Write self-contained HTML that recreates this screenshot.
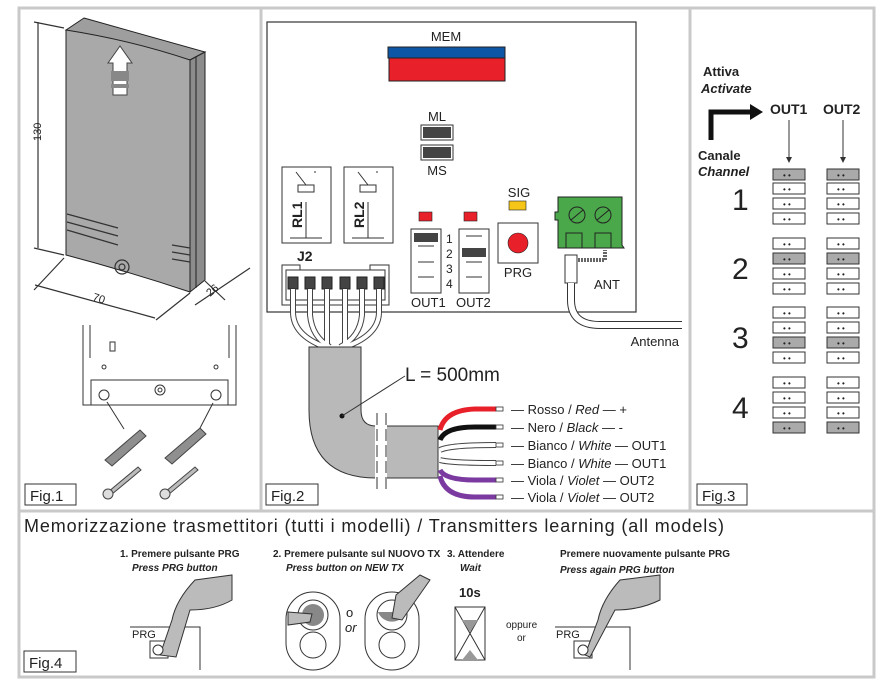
<!DOCTYPE html>
<html><head><meta charset="utf-8"><style>
html,body{margin:0;padding:0;background:#fff;}
svg{display:block;font-family:"Liberation Sans",sans-serif;}
</style></head><body>
<svg width="895" height="683" viewBox="0 0 895 683" xmlns="http://www.w3.org/2000/svg">
<rect width="895" height="683" fill="#fff"/>
<!-- frame -->
<g fill="none" stroke="#c9c9c9" stroke-width="3">
<rect x="19" y="8" width="855" height="669"/>
<line x1="261" y1="8" x2="261" y2="511"/>
<line x1="690" y1="8" x2="690" y2="511"/>
<line x1="19" y1="511" x2="874" y2="511"/>
</g>
<!-- FIG 1 device -->
<polygon points="84,18 205,52 190,60 66,30" fill="#9e9e9e" stroke="#222" stroke-width="1"/>
<path d="M66,30 Q130,40 190,60 L190,292 Q130,272 66,255 Z" fill="#a9a9a9" stroke="#222" stroke-width="1"/>
<polygon points="190,60 205,52 205,280 190,292" fill="#8c8c8c" stroke="#222" stroke-width="1"/>
<line x1="196" y1="57" x2="196" y2="288" stroke="#222"/>
<g fill="#fff" stroke="#444"><polygon points="108,63 120,46 132,63 127,63 127,95 113,95 113,63"/></g>
<rect x="111" y="71" width="18" height="10" fill="#888"/>
<rect x="111" y="84" width="18" height="4" fill="#888"/>
<g stroke="#333" stroke-width="1.2" fill="none">
<path d="M67,214 L118,228 M67,222 L118,236 M67,230 L118,245"/>
<path d="M172,245 L190,248 M172,252 L190,255 M172,259 L190,262"/>
<circle cx="122" cy="267" r="7"/><circle cx="122" cy="267" r="3"/>
<!-- dims -->
<line x1="38" y1="22" x2="38" y2="248"/><line x1="34" y1="22" x2="64" y2="28"/><line x1="34" y1="248" x2="64" y2="255"/>
<line x1="35" y1="285" x2="155" y2="318"/><line x1="64" y1="258" x2="34" y2="290"/><line x1="190" y1="293" x2="156" y2="320"/>
<line x1="205" y1="281" x2="225" y2="300"/><line x1="195" y1="305" x2="250" y2="268"/>
</g>
<text x="36" y="146" font-size="11" transform="rotate(-90 36 141)" fill="#222">130</text>
<text x="92" y="300" font-size="11" transform="rotate(18 92 300)" fill="#222">70</text>
<text x="210" y="297" font-size="11" transform="rotate(-40 210 297)" fill="#222">26</text>
<!-- bracket -->
<g stroke="#333" stroke-width="1" fill="none">
<path d="M83,325 L83,405 L236,405 L236,325 M90,325 L90,358 M229,325 L229,358"/>
<rect x="91" y="380" width="137" height="25" fill="#fff"/>
<rect x="110" y="342" width="5" height="9"/><circle cx="104" cy="367" r="2"/><circle cx="216" cy="367" r="2"/>
<circle cx="104" cy="395" r="5"/><circle cx="216" cy="395" r="5"/><circle cx="160" cy="390" r="5"/><circle cx="160" cy="390" r="2"/>
<line x1="124" y1="429" x2="107" y2="402"/><line x1="199" y1="430" x2="213" y2="403"/>
</g>
<g fill="#8f8f8f" stroke="#444">
<path d="M105,460 L140,430 L146,436 L112,466 Z"/><path d="M165,458 L200,428 L206,434 L172,464 Z"/>
<path d="M108,492 L138,467 L141,470 L111,495 Z" fill="#bbb"/><path d="M165,492 L195,467 L198,470 L168,495 Z" fill="#bbb"/>
<circle cx="108" cy="494" r="5" fill="#ddd"/><circle cx="165" cy="494" r="5" fill="#ddd"/>
</g>
<rect x="25" y="484" width="51" height="21" fill="#fff" stroke="#333"/>
<text x="30" y="501" font-size="15" fill="#222">Fig.1</text>

<!-- FIG 2 board -->
<rect x="267" y="22" width="369" height="290" fill="#fff" stroke="#333" stroke-width="1.2"/>
<text x="446" y="41" font-size="13" text-anchor="middle" fill="#222">MEM</text>
<rect x="388" y="47" width="117" height="11" fill="#0d55a5" stroke="#222"/>
<rect x="389" y="58" width="116" height="23" fill="#e8202a" stroke="#222"/>
<text x="437" y="121" font-size="13" text-anchor="middle" fill="#222">ML</text>
<rect x="421" y="125" width="32" height="15" fill="#fff" stroke="#333"/><rect x="423" y="127" width="28" height="11" fill="#444"/>
<rect x="421" y="145" width="32" height="15" fill="#fff" stroke="#333"/><rect x="423" y="147" width="28" height="11" fill="#444"/>
<text x="437" y="175" font-size="13" text-anchor="middle" fill="#222">MS</text>
<!-- relays -->
<g stroke="#333" fill="none">
<rect x="282" y="167" width="49" height="76" fill="#fff"/><rect x="344" y="167" width="49" height="76" fill="#fff"/>
<path d="M296,172 L306,185 M314,172 L316,172 M306,185 L306,190 M298,190 L314,190 M306,202 L306,238 M290,238 L322,238"/>
<rect x="298" y="185" width="16" height="7" fill="#fff"/>
<path d="M358,172 L368,185 M376,172 L378,172 M368,202 L368,238 M352,238 L384,238"/>
<rect x="360" y="185" width="16" height="7" fill="#fff"/>
</g>
<text x="302" y="228" font-size="14" font-weight="bold" transform="rotate(-90 302 228)" fill="#222">RL1</text>
<text x="364" y="228" font-size="14" font-weight="bold" transform="rotate(-90 364 228)" fill="#222">RL2</text>
<text x="297" y="261" font-size="14" font-weight="bold" fill="#222">J2</text>
<path d="M282,265 L300,265 L300,270 L370,270 L370,265 L389,265 L389,305 L282,305 Z" fill="#fff" stroke="#333"/>
<rect x="286" y="270" width="99" height="30" fill="none" stroke="#333"/>
<g fill="#444" stroke="#222">
<rect x="288" y="277" width="10" height="12"/><rect x="305" y="277" width="10" height="12"/><rect x="322" y="277" width="10" height="12"/>
<rect x="340" y="277" width="10" height="12"/><rect x="357" y="277" width="10" height="12"/><rect x="374" y="277" width="10" height="12"/>
</g>
<g stroke="#444" stroke-width="6" fill="none"><path d="M293,289 L293,312 Q293,335 325,347 M310,289 L310,315 Q312,337 330,347 M327,289 L327,347 M345,289 L345,347 M362,289 L362,315 Q360,337 340,347 M379,289 L379,312 Q379,335 345,347"/></g>
<g stroke="#fff" stroke-width="4" fill="none"><path d="M293,289 L293,312 Q293,335 325,347 M310,289 L310,315 Q312,337 330,347 M327,289 L327,347 M345,289 L345,347 M362,289 L362,315 Q360,337 340,347 M379,289 L379,312 Q379,335 345,347"/></g>
<!-- OUT jumpers -->
<rect x="419" y="212" width="13" height="9" fill="#e8202a" stroke="#222" stroke-width=".6"/>
<rect x="464" y="212" width="13" height="9" fill="#e8202a" stroke="#222" stroke-width=".6"/>
<rect x="411" y="229" width="30" height="64" fill="#fff" stroke="#333"/>
<rect x="459" y="229" width="30" height="64" fill="#fff" stroke="#333"/>
<rect x="414" y="233" width="24" height="9" fill="#444"/><rect x="462" y="248" width="24" height="9" fill="#444"/>
<g stroke="#333"><line x1="418" y1="246" x2="434" y2="246"/><line x1="418" y1="262" x2="434" y2="262"/><line x1="418" y1="277" x2="434" y2="277"/>
<line x1="466" y1="236" x2="482" y2="236"/><line x1="466" y1="262" x2="482" y2="262"/><line x1="466" y1="277" x2="482" y2="277"/></g>
<g font-size="12" fill="#222"><text x="446" y="243">1</text><text x="446" y="258">2</text><text x="446" y="273">3</text><text x="446" y="288">4</text></g>
<text x="411" y="307" font-size="13" fill="#222">OUT1</text><text x="456" y="307" font-size="13" fill="#222">OUT2</text>
<text x="519" y="197" font-size="13" text-anchor="middle" fill="#222">SIG</text>
<rect x="509" y="201" width="17" height="9" fill="#f5c518" stroke="#222" stroke-width=".6"/>
<rect x="498" y="223" width="40" height="40" fill="#fff" stroke="#333"/>
<circle cx="518" cy="243" r="10" fill="#e8202a" stroke="#222" stroke-width=".6"/>
<text x="518" y="277" font-size="13" text-anchor="middle" fill="#222">PRG</text>
<!-- terminal -->
<path d="M558,197 L622,197 L622,245 L624,248 L558,248 L558,220 L555,220 L555,212 L558,212 Z" fill="#4aa84a" stroke="#222"/>
<circle cx="577" cy="215" r="8" fill="#4aa84a" stroke="#222"/><circle cx="603" cy="215" r="8" fill="#4aa84a" stroke="#222"/>
<line x1="571" y1="220" x2="583" y2="210" stroke="#222"/><line x1="597" y1="220" x2="609" y2="210" stroke="#222"/>
<rect x="566" y="233" width="16" height="15" fill="#4aa84a" stroke="#222"/><rect x="595" y="233" width="16" height="15" fill="#4aa84a" stroke="#222"/>
<path d="M566,260 L605,260 L605,250" stroke="#666" stroke-width="4" stroke-dasharray="2 1" fill="none"/>
<rect x="565" y="255" width="12" height="28" fill="#fff" stroke="#333"/>
<text x="594" y="289" font-size="13" fill="#222">ANT</text>
<path d="M571,283 L571,300 Q571,325 600,325 L682,325" stroke="#333" stroke-width="8" fill="none"/>
<path d="M571,283 L571,300 Q571,325 600,325 L682,325" stroke="#fff" stroke-width="6" fill="none"/>
<text x="679" y="346" font-size="13" text-anchor="end" fill="#222">Antenna</text>
<!-- cable -->
<path d="M309,347 L361,347 L361,410 Q361,426 376,426 L438,426 L438,478 L376,478 Q309,478 309,410 Z" fill="#b9b9b9" stroke="#333"/>
<rect x="375" y="413" width="12" height="80" fill="#fff"/>
<line x1="377" y1="413" x2="377" y2="493" stroke="#333" stroke-dasharray="12 4"/>
<line x1="386" y1="413" x2="386" y2="493" stroke="#333" stroke-dasharray="12 4"/>
<circle cx="342" cy="416" r="2.5" fill="#111"/><line x1="342" y1="416" x2="405" y2="376" stroke="#333"/>
<text x="405" y="381" font-size="19" fill="#222">L = 500mm</text>
<g fill="none" stroke-width="5">
<path d="M440,430 Q445,410 475,409 L496,409" stroke="#e8202a"/>
<path d="M440,440 Q445,427 475,427 L496,427" stroke="#111"/>
<path d="M440,450 Q450,445 496,445" stroke="#444" stroke-width="6"/><path d="M440,450 Q450,445 496,445" stroke="#fff" stroke-width="4"/>
<path d="M440,460 Q450,463 496,463" stroke="#444" stroke-width="6"/><path d="M440,460 Q450,463 496,463" stroke="#fff" stroke-width="4"/>
<path d="M440,470 Q445,480 475,480 L496,480" stroke="#7a3aa0"/>
<path d="M440,476 Q445,497 475,497 L496,497" stroke="#7a3aa0"/>
</g>
<g fill="#fff" stroke="#333" stroke-width=".8">
<rect x="496" y="407" width="7" height="4"/><rect x="496" y="425" width="7" height="4"/><rect x="496" y="443" width="7" height="4"/>
<rect x="496" y="461" width="7" height="4"/><rect x="496" y="478" width="7" height="4"/><rect x="496" y="495" width="7" height="4"/>
</g>
<g font-size="13" fill="#222">
<text x="511" y="414">— Rosso / <tspan font-style="italic">Red</tspan> — +</text>
<text x="511" y="432">— Nero / <tspan font-style="italic">Black</tspan> — -</text>
<text x="511" y="450">— Bianco / <tspan font-style="italic">White</tspan> — OUT1</text>
<text x="511" y="468">— Bianco / <tspan font-style="italic">White</tspan> — OUT1</text>
<text x="511" y="485">— Viola / <tspan font-style="italic">Violet</tspan> — OUT2</text>
<text x="511" y="502">— Viola / <tspan font-style="italic">Violet</tspan> — OUT2</text>
</g>
<rect x="266" y="484" width="52" height="21" fill="#fff" stroke="#333"/>
<text x="271" y="501" font-size="15" fill="#222">Fig.2</text>

<!-- FIG 3 -->
<text x="703" y="76" font-size="13" font-weight="bold" fill="#222">Attiva</text>
<text x="701" y="93" font-size="13" font-weight="bold" font-style="italic" fill="#222">Activate</text>
<path d="M711,140 L711,112 L752,112" stroke="#111" stroke-width="5" fill="none"/>
<polygon points="750,104 763,112 750,120" fill="#111"/>
<text x="698" y="160" font-size="13" font-weight="bold" fill="#222">Canale</text>
<text x="698" y="176" font-size="13" font-weight="bold" font-style="italic" fill="#222">Channel</text>
<text x="770" y="114" font-size="14" font-weight="bold" fill="#222">OUT1</text>
<text x="823" y="114" font-size="14" font-weight="bold" fill="#222">OUT2</text>
<g stroke="#333"><line x1="789" y1="120" x2="789" y2="162"/><line x1="843" y1="120" x2="843" y2="162"/></g>
<polygon points="786,157 789,163 792,157" fill="#333"/><polygon points="840,157 843,163 846,157" fill="#333"/>
<g font-size="30" fill="#222"><text x="732" y="210">1</text><text x="732" y="279">2</text><text x="732" y="348">3</text><text x="732" y="418">4</text></g>
<g id="jp" stroke="#333" fill="#fff">
<!-- generated rows -->
</g>
<g stroke="#333" stroke-width="1">
<rect x="773" y="169" width="32" height="11" fill="#aaa"/><rect x="773" y="183" width="32" height="11" fill="#fff"/><rect x="773" y="198" width="32" height="11" fill="#fff"/><rect x="773" y="213" width="32" height="11" fill="#fff"/>
<rect x="827" y="169" width="32" height="11" fill="#aaa"/><rect x="827" y="183" width="32" height="11" fill="#fff"/><rect x="827" y="198" width="32" height="11" fill="#fff"/><rect x="827" y="213" width="32" height="11" fill="#fff"/>
<rect x="773" y="238" width="32" height="11" fill="#fff"/><rect x="773" y="253" width="32" height="11" fill="#aaa"/><rect x="773" y="268" width="32" height="11" fill="#fff"/><rect x="773" y="283" width="32" height="11" fill="#fff"/>
<rect x="827" y="238" width="32" height="11" fill="#fff"/><rect x="827" y="253" width="32" height="11" fill="#aaa"/><rect x="827" y="268" width="32" height="11" fill="#fff"/><rect x="827" y="283" width="32" height="11" fill="#fff"/>
<rect x="773" y="307" width="32" height="11" fill="#fff"/><rect x="773" y="322" width="32" height="11" fill="#fff"/><rect x="773" y="337" width="32" height="11" fill="#aaa"/><rect x="773" y="352" width="32" height="11" fill="#fff"/>
<rect x="827" y="307" width="32" height="11" fill="#fff"/><rect x="827" y="322" width="32" height="11" fill="#fff"/><rect x="827" y="337" width="32" height="11" fill="#aaa"/><rect x="827" y="352" width="32" height="11" fill="#fff"/>
<rect x="773" y="377" width="32" height="11" fill="#fff"/><rect x="773" y="392" width="32" height="11" fill="#fff"/><rect x="773" y="407" width="32" height="11" fill="#fff"/><rect x="773" y="422" width="32" height="11" fill="#aaa"/>
<rect x="827" y="377" width="32" height="11" fill="#fff"/><rect x="827" y="392" width="32" height="11" fill="#fff"/><rect x="827" y="407" width="32" height="11" fill="#fff"/><rect x="827" y="422" width="32" height="11" fill="#aaa"/>
</g>
<g fill="#222" font-size="8">
<text x="783" y="178">• •</text><text x="783" y="192">• •</text><text x="783" y="207">• •</text><text x="783" y="222">• •</text>
<text x="837" y="178">• •</text><text x="837" y="192">• •</text><text x="837" y="207">• •</text><text x="837" y="222">• •</text>
<text x="783" y="247">• •</text><text x="783" y="262">• •</text><text x="783" y="277">• •</text><text x="783" y="292">• •</text>
<text x="837" y="247">• •</text><text x="837" y="262">• •</text><text x="837" y="277">• •</text><text x="837" y="292">• •</text>
<text x="783" y="316">• •</text><text x="783" y="331">• •</text><text x="783" y="346">• •</text><text x="783" y="361">• •</text>
<text x="837" y="316">• •</text><text x="837" y="331">• •</text><text x="837" y="346">• •</text><text x="837" y="361">• •</text>
<text x="783" y="386">• •</text><text x="783" y="401">• •</text><text x="783" y="416">• •</text><text x="783" y="431">• •</text>
<text x="837" y="386">• •</text><text x="837" y="401">• •</text><text x="837" y="416">• •</text><text x="837" y="431">• •</text>
</g>
<rect x="697" y="484" width="50" height="21" fill="#fff" stroke="#333"/>
<text x="702" y="501" font-size="15" fill="#222">Fig.3</text>

<!-- FIG 4 -->
<text x="24" y="532" font-size="18" fill="#222" textLength="700">Memorizzazione trasmettitori (tutti i modelli) / Transmitters learning (all models)</text>
<g font-size="10" font-weight="bold" fill="#222">
<text x="120" y="557">1. Premere pulsante PRG</text>
<text x="132" y="571" font-style="italic">Press PRG button</text>
<text x="273" y="557">2. Premere pulsante sul NUOVO TX</text>
<text x="286" y="571" font-style="italic">Press button on NEW TX</text>
<text x="447" y="557">3. Attendere</text>
<text x="460" y="571" font-style="italic">Wait</text>
<text x="560" y="557">Premere nuovamente pulsante PRG</text>
<text x="560" y="573" font-style="italic">Press again PRG button</text>
<text x="459" y="597" font-size="13">10s</text>
</g>
<g font-size="10" fill="#222"><text x="506" y="628">oppure</text><text x="517" y="641">or</text></g>
<g stroke="#333" fill="none">
<path d="M130,627 L200,627 L200,670"/><rect x="150" y="641" width="18" height="17"/>
<path d="M555,627 L630,627 L630,670"/><rect x="574" y="641" width="18" height="17"/>
<rect x="286" y="592" width="54" height="78" rx="27"/><circle cx="313" cy="615" r="15"/><circle cx="313" cy="645" r="13"/>
<rect x="365" y="592" width="54" height="78" rx="27"/><circle cx="392" cy="615" r="15"/><circle cx="392" cy="645" r="13"/>
<rect x="455" y="607" width="30" height="53"/><path d="M455,607 L485,660 M485,607 L455,660"/>
</g>
<circle cx="313" cy="615" r="11" fill="#888"/><path d="M378,612 L406,612 A15,15 0 0 1 378,612 Z" fill="#888"/>
<polygon points="462,620 478,620 470,632" fill="#999"/><polygon points="470,650 478,660 462,660" fill="#999"/>
<g fill="#bbb" stroke="#333">
<path d="M160,655 L172,620 Q176,600 195,580 L232,575 L232,600 Q215,610 190,610 L176,657 Z"/>
<path d="M585,655 L598,620 Q602,600 620,580 L660,575 L660,600 Q640,610 615,610 L590,657 Z"/>
<path d="M392,618 L396,595 L420,575 L430,580 L402,620 Z"/>
<path d="M288,612 L312,614 L310,622 L288,625 Z"/>
</g>
<circle cx="158" cy="650" r="5" fill="#fff" stroke="#333"/><circle cx="583" cy="650" r="5" fill="#fff" stroke="#333"/>
<text x="132" y="638" font-size="11" fill="#222">PRG</text>
<text x="556" y="638" font-size="11" fill="#222">PRG</text>
<text x="346" y="617" font-size="13" fill="#222">o</text>
<text x="345" y="632" font-size="13" font-style="italic" fill="#222">or</text>
<rect x="24" y="651" width="52" height="21" fill="#fff" stroke="#333"/>
<text x="29" y="668" font-size="15" fill="#222">Fig.4</text>
</svg>
</body></html>
